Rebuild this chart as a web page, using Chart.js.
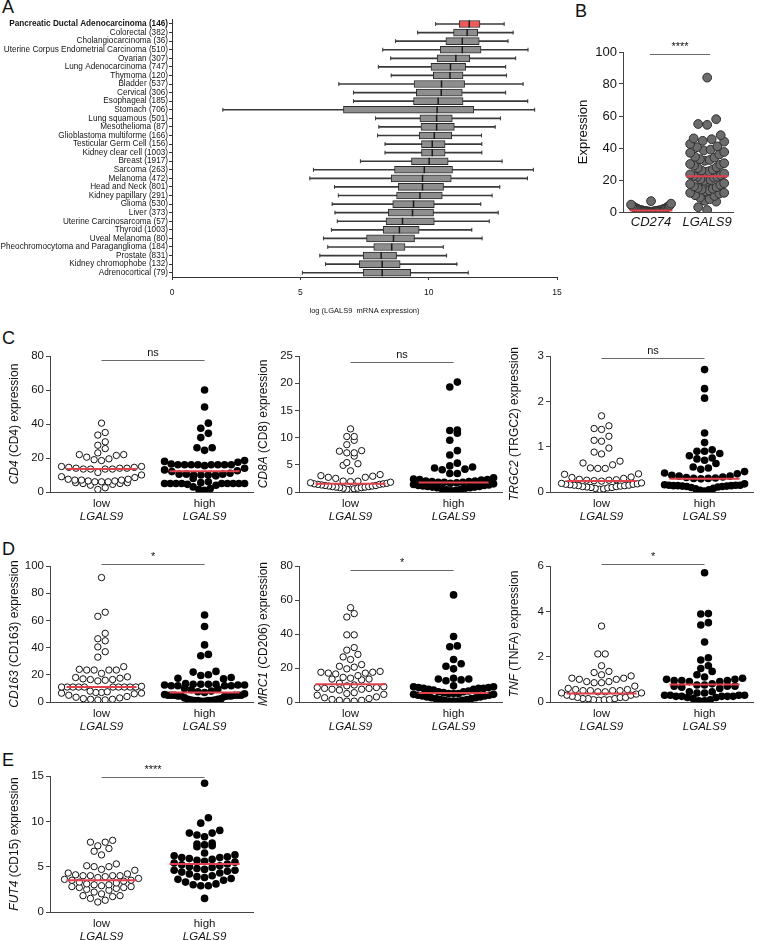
<!DOCTYPE html>
<html>
<head>
<meta charset="utf-8">
<script src="https://cdn.jsdelivr.net/npm/chart.js@4.4.1/dist/chart.umd.min.js"></script>
<style>
  body { margin: 0; background: #fff; width: 759px; height: 941px; position: relative; overflow: hidden; font-family: Arial, "Liberation Sans", sans-serif; }
  canvas { position: absolute; }
  .tag { position: absolute; font-size: 18px; line-height: 1; color: #111; }
</style>
</head>
<body>
<div class="tag" style="left:2px;top:-2px">A</div>
<div class="tag" style="left:575px;top:2px">B</div>
<div class="tag" style="left:2px;top:329px">C</div>
<div class="tag" style="left:2px;top:540px">D</div>
<div class="tag" style="left:2px;top:751px">E</div>

<canvas id="chartA" width="570" height="320" style="left:0;top:0"></canvas>
<canvas id="chartB" width="180" height="212" style="left:565px;top:30px"></canvas>
<canvas id="c1" width="258" height="196" style="left:0;top:340px"></canvas>
<canvas id="c2" width="258" height="196" style="left:249px;top:340px"></canvas>
<canvas id="c3" width="258" height="196" style="left:500px;top:340px"></canvas>
<canvas id="d1" width="258" height="196" style="left:0;top:550px"></canvas>
<canvas id="d2" width="258" height="196" style="left:249px;top:550px"></canvas>
<canvas id="d3" width="258" height="196" style="left:500px;top:550px"></canvas>
<canvas id="e1" width="258" height="196" style="left:0;top:760px"></canvas>

<script>
// ---- Panel A: LGALS9 expression per cancer type (box plots) ----
const cancerTypes = [
  'Pancreatic Ductal Adenocarcinoma (146)', 'Colorectal (382)', 'Cholangiocarcinoma (36)',
  'Uterine Corpus Endometrial Carcinoma (510)', 'Ovarian (307)', 'Lung Adenocarcinoma (747)',
  'Thymoma (120)', 'Bladder (537)', 'Cervical (306)', 'Esophageal (185)', 'Stomach (706)',
  'Lung squamous (501)', 'Mesothelioma (87)', 'Glioblastoma multiforme (166)',
  'Testicular Germ Cell (156)', 'Kidney clear cell (1003)', 'Breast (1917)', 'Sarcoma (263)',
  'Melanoma (472)', 'Head and Neck (801)', 'Kidney papillary (291)', 'Glioma (530)',
  'Liver (373)', 'Uterine Carcinosarcoma (57)', 'Thyroid (1003)', 'Uveal Melanoma (80)',
  'Pheochromocytoma and Paraganglioma (184)', 'Prostate (831)', 'Kidney chromophobe (132)',
  'Adrenocortical (79)'
];
const whiskerMin = [10.27, 9.57, 8.71, 8.21, 8.52, 8.04, 8.54, 6.5, 7.07, 7.07, 1.98, 7.93, 8.06, 8.01, 8.3,
  8.3, 7.34, 5.51, 5.37, 6.33, 6.48, 6.24, 6.35, 6.44, 6.21, 5.9, 6.07, 5.76, 5.98, 5.08];
const boxQ1 = [11.19, 10.97, 10.67, 10.45, 10.33, 10.09, 10.18, 9.43, 9.52, 9.41, 6.68, 9.66, 9.7, 9.63, 9.72,
  9.72, 9.33, 8.67, 8.54, 8.82, 8.75, 8.6, 8.43, 8.34, 8.23, 7.58, 7.86, 7.45, 7.3, 7.45];
const boxMedian = [11.58, 11.5, 11.31, 11.31, 11.06, 10.85, 10.83, 10.5, 10.49, 10.37, 10.33, 10.31, 10.31, 10.22, 10.14,
  10.14, 10.02, 9.83, 9.76, 9.76, 9.66, 9.41, 9.37, 8.98, 8.86, 8.63, 8.56, 8.15, 8.19, 8.19];
const boxQ3 = [12.0, 11.91, 11.97, 12.04, 11.6, 11.44, 11.34, 11.4, 11.31, 11.34, 11.76, 10.92, 11.0, 10.9, 10.64,
  10.64, 10.76, 10.93, 10.88, 10.58, 10.53, 10.22, 10.19, 10.22, 9.63, 9.45, 9.08, 8.75, 8.89, 9.3];
const whiskerMax = [12.94, 13.29, 13.09, 13.87, 13.39, 13.0, 13.03, 13.68, 13.0, 13.86, 14.13, 12.8, 12.59, 12.06, 12.07,
  12.07, 12.86, 14.08, 13.85, 12.77, 12.47, 12.03, 12.71, 12.36, 11.68, 12.08, 10.57, 10.7, 11.1, 11.54];
const axisATicks = [0, 5, 10, 15];

// ---- Panel B: CD274 vs LGALS9 ----
const bCategories = ['CD274', 'LGALS9'];
const bCd274 = [6.8, 5.2, 4.6, 4.2, 3.8, 3.5, 3.2, 3.0, 2.8, 2.5, 2.3, 2.1, 2.0, 1.8, 1.6, 1.5, 1.4, 1.2, 1.1, 1.0,
  1.0, 0.9, 0.8, 0.8, 0.7, 0.6, 0.5, 0.5, 0.4, 0.3, 0.3, 0.2, 0.2, 0.1];
const bLgals9 = [84, 58, 55, 54.5, 48, 46, 45.5, 44.5, 44, 42.5, 41, 40.5, 39, 38.5, 37.5, 37, 36, 34.5, 34, 33,
  32.5, 32, 30.5, 30, 29.5, 29, 28, 27.5, 26.5, 26, 25.5, 25, 24, 23.5, 23, 22.5, 22, 22, 21.5, 20.5, 20, 19.5,
  19, 18, 17.5, 17, 16, 15.5, 15, 14.5, 14, 13.5, 13, 12, 12, 11.5, 10.5, 10, 9, 8, 7, 6.5, 3, 1.2];
const bMedian = [1.0, 22.3];

// ---- Panels C-E: low vs high LGALS9 groups ----
const groupNames = ['low', 'high'];
const groupGene = 'LGALS9';

const cd4Low = [40.5, 35, 33.5, 29.5, 27.5, 25.5, 23, 22, 22, 21.5, 20.5, 19.5, 19, 18.5, 15, 15, 14.5, 14.5, 14,
  14, 13.5, 13.5, 13.5, 13.5, 14, 11.5, 10, 9, 8.5, 7.5, 7.5, 7, 7, 7, 6.5, 6.5, 6, 6, 6, 5.5, 5.5, 5, 5, 4.5, 4, 2.5, 1.5];
const cd4High = [60, 50, 40.5, 37.5, 34.5, 32, 26, 26, 24.5, 18.5, 18, 17.5, 16.5, 16, 16, 16, 16, 16, 16, 16, 16,
  15.5, 14, 13, 12.5, 12, 11, 10.5, 10.5, 10.5, 10, 10, 10, 10, 9.5, 8, 6, 5.5, 5, 5, 5, 5, 5, 5, 5, 5, 5, 4.5, 4, 3, 2, 1.5, 1];
const cd4Median = [13.5, 12.2];

const cd8Low = [11.6, 10.2, 10.2, 9.5, 8.7, 7.6, 7.5, 7.2, 7.2, 6.6, 5.4, 5.2, 4.9, 3.9, 3.2, 3.0, 2.9, 2.7, 2.7, 2.5,
  2.0, 2.0, 1.9, 1.8, 1.7, 1.6, 1.5, 1.5, 1.4, 1.4, 1.3, 1.2, 1.2, 1.1, 1.1, 1.0, 1.0, 0.9, 0.9, 0.8, 0.8, 0.7, 0.7, 0.6, 0.5, 0.5];
const cd8High = [20.2, 19.3, 11.4, 11.3, 10.8, 9.5, 7.6, 6.8, 5.3, 4.8, 4.6, 4.4, 4.2, 4.1, 3.4, 3.4, 2.6, 2.4, 2.3,
  2.3, 2.2, 2.0, 2.0, 1.9, 1.9, 1.8, 1.8, 1.8, 1.7, 1.6, 1.5, 1.4, 1.3, 1.2, 1.2, 1.1, 1.0, 1.0, 0.9, 0.9, 0.8, 0.8,
  0.7, 0.6, 0.5, 0.4, 0.3, 0.2];
const cd8Median = [1.5, 1.75];

const trgc2Low = [1.68, 1.46, 1.40, 1.38, 1.23, 1.14, 1.12, 0.97, 0.88, 0.84, 0.68, 0.64, 0.60, 0.53, 0.52, 0.52,
  0.40, 0.39, 0.33, 0.32, 0.30, 0.28, 0.27, 0.26, 0.26, 0.25, 0.24, 0.20, 0.19, 0.18, 0.17, 0.17, 0.16, 0.15, 0.15,
  0.14, 0.14, 0.13, 0.12, 0.12, 0.11, 0.10, 0.10, 0.09, 0.08, 0.07, 0.06];
const trgc2High = [2.7, 2.28, 2.07, 1.3, 1.09, 0.93, 0.9, 0.9, 0.85, 0.8, 0.75, 0.73, 0.7, 0.63, 0.55, 0.53, 0.5,
  0.45, 0.42, 0.4, 0.37, 0.35, 0.35, 0.33, 0.32, 0.31, 0.3, 0.3, 0.29, 0.18, 0.16, 0.15, 0.15, 0.15, 0.14, 0.14,
  0.14, 0.13, 0.13, 0.12, 0.12, 0.11, 0.1, 0.08, 0.07, 0.05, 0.04, 0.02];
const trgc2Median = [0.24, 0.29];

const cd163Low = [91.5, 66, 63, 50.5, 46.5, 45, 40.5, 37, 33, 26, 24, 23.5, 23.5, 23.5, 23.5, 21, 18.5, 18, 17.5,
  17, 16.5, 16.5, 16, 15.5, 11.5, 11, 11, 11, 11, 11, 11, 11, 11, 11, 11, 8, 7.5, 7, 7, 6.5, 6.5, 6, 5, 4, 3.5,
  3, 2.5, 2, 2, 1.5, 1.5];
const cd163High = [64, 55.5, 42, 35, 34, 22.5, 22, 20, 19.5, 18, 17.5, 17, 13.5, 13, 13, 13, 13, 12.5, 12.5, 12.5,
  12, 12, 12, 12, 10, 9.5, 9, 8, 7.5, 7, 6, 5.5, 5, 5, 5, 5, 5, 5, 4.5, 4.5, 4.5, 4.5, 4, 3, 2.5, 2, 2, 1.5, 1.5,
  1, 1, 1, 1, 0.5, 0.5];
const cd163Median = [11, 7];

const mrc1Low = [55.5, 52, 50, 39.5, 39.5, 32, 30.5, 28, 26.5, 25, 22, 21, 20.5, 19.5, 18, 17.5, 17.5, 17, 17, 16.5,
  15.5, 14.5, 14, 13.5, 13.5, 13, 11, 10, 9.5, 9, 8.5, 8.5, 8, 8, 7.5, 7.5, 7, 5.5, 5, 4.5, 4, 3, 2.5, 2, 1.5, 1,
  1, 0.5, 0.5];
const mrc1High = [63, 38.5, 33, 32.5, 25, 22.5, 21, 19.5, 14, 13.5, 13.5, 13, 12.5, 9.5, 9, 9, 8.5, 8.5, 8, 8, 8,
  7.5, 7.5, 7, 6.5, 6, 6, 5.5, 5, 5, 5, 4.5, 4.5, 4, 4, 3.5, 3.5, 3, 3, 2.5, 2.5, 2, 2, 1.5, 1.5, 1, 1, 0.5, 0.5, 0.5];
const mrc1Median = [10.5, 5.3];

const tnfLow = [3.35, 2.12, 2.12, 1.6, 1.35, 1.3, 1.2, 1.15, 1.05, 1.05, 1.0, 1.0, 0.9, 0.9, 0.85, 0.85, 0.7, 0.6,
  0.55, 0.55, 0.5, 0.5, 0.5, 0.5, 0.45, 0.45, 0.4, 0.4, 0.35, 0.3, 0.3, 0.25, 0.2, 0.2, 0.2, 0.15, 0.15, 0.15,
  0.1, 0.1, 0.1, 0.08];
const tnfHigh = [5.7, 3.9, 3.88, 3.5, 3.4, 2.65, 1.95, 1.85, 1.6, 1.48, 1.35, 1.2, 1.1, 1.05, 1.0, 1.0, 0.95, 0.95,
  0.95, 0.9, 0.9, 0.8, 0.75, 0.75, 0.7, 0.7, 0.7, 0.65, 0.6, 0.45, 0.45, 0.4, 0.4, 0.3, 0.3, 0.3, 0.3, 0.25, 0.25,
  0.25, 0.25, 0.25, 0.2, 0.2, 0.15, 0.1, 0.05, 0.05];
const tnfMedian = [0.38, 0.77];

const fut4Low = [7.9, 7.7, 7.7, 7.3, 7.0, 6.7, 6.3, 5.3, 5.1, 5.0, 5.0, 4.7, 4.6, 4.3, 4.2, 4.1, 4.0, 4.0, 4.0, 4.0,
  3.9, 3.8, 3.7, 3.6, 3.5, 3.5, 3.4, 3.3, 3.2, 3.1, 3.0, 3.0, 2.9, 2.8, 2.8, 2.7, 2.7, 2.6, 2.5, 2.4, 2.2, 2.0,
  1.8, 1.8, 1.7, 1.5, 1.3, 1.1];
const fut4High = [14.2, 10.4, 9.8, 9.0, 8.7, 8.7, 8.5, 8.3, 7.6, 7.5, 7.4, 7.3, 7.2, 6.5, 6.3, 6.2, 6.1, 6.0, 6.0,
  5.9, 5.8, 5.7, 5.6, 5.5, 5.4, 5.3, 5.2, 5.1, 5.0, 4.9, 4.8, 4.7, 4.6, 4.6, 4.5, 4.4, 4.3, 4.2, 4.0, 3.9, 3.8,
  3.7, 3.6, 3.5, 3.3, 3.1, 3.0, 2.9, 2.9, 1.5];
const fut4Median = [3.5, 5.3];

const RED = '#e2404b';
Chart.defaults.font.family = 'Arial, "Liberation Sans", sans-serif';
Chart.defaults.color = '#151515';
Chart.defaults.animation = false;
Chart.defaults.plugins.legend.display = false;
Chart.defaults.plugins.tooltip.enabled = false;

// Prism-like scatter: points within one dot height go side by side in a row,
// the lowest ones sit in the middle of the row
function swarm(chart, values, center, dot, maxW) {
  const xs = chart.scales.x, ys = chart.scales.y;
  const unit = xs.getPixelForValue(1) - xs.getPixelForValue(0);
  const sorted = values.slice().sort((a, b) => a - b);
  const points = [];
  let band = [];
  const flush = () => {
    const n = band.length;
    const gap = n > 1 ? Math.min(dot, maxW / (n - 1)) : 0;
    const slots = band.map((_, i) => (i - (n - 1) / 2) * gap).sort((a, b) => Math.abs(a) - Math.abs(b));
    band.forEach((v, i) => points.push({ x: center + slots[i] / unit, y: v }));
    band = [];
  };
  sorted.forEach(v => {
    if (band.length && ys.getPixelForValue(band[0]) - ys.getPixelForValue(v) >= dot) flush();
    band.push(v);
  });
  flush();
  return points;
}

// significance bar + y title with italic gene symbol
function decor(spec) {
  return {
    id: 'decor',
    afterDraw(chart) {
      const { ctx, chartArea } = chart;
      const x = chart.scales.x, y = chart.scales.y;
      ctx.save();
      const yy = Math.round(y.getPixelForValue(spec.sigY)) + 0.5;
      const x0 = x.getPixelForValue(spec.sigFrom ?? 0), x1 = x.getPixelForValue(spec.sigTo ?? 1);
      ctx.strokeStyle = '#6a6a6a';
      ctx.lineWidth = 1;
      ctx.beginPath();
      ctx.moveTo(x0, yy);
      ctx.lineTo(x1, yy);
      ctx.stroke();
      ctx.fillStyle = '#111';
      ctx.textAlign = 'center';
      ctx.textBaseline = 'bottom';
      ctx.font = `${spec.sigSize || 11}px Arial, "Liberation Sans", sans-serif`;
      ctx.fillText(spec.sigText, (x0 + x1) / 2, yy - 2);

      const size = spec.titleSize || 12;
      const fontFor = it => `${it ? 'italic ' : ''}${size}px Arial, "Liberation Sans", sans-serif`;
      let total = 0;
      spec.title.forEach(([t, it]) => { ctx.font = fontFor(it); total += ctx.measureText(t).width; });
      ctx.translate(spec.titleX, (chartArea.top + chartArea.bottom) / 2);
      ctx.rotate(-Math.PI / 2);
      ctx.textAlign = 'left';
      ctx.textBaseline = 'middle';
      let pos = -total / 2;
      spec.title.forEach(([t, it]) => {
        ctx.font = fontFor(it);
        ctx.fillText(t, pos, 0);
        pos += ctx.measureText(t).width;
      });
      ctx.restore();
    }
  };
}

function twoTicks(s) { s.ticks = [{ value: 0 }, { value: 1 }]; }

function dotPlot(id, spec) {
  const medLine = (c, m) => ({
    type: 'line', data: [{ x: c - 0.34, y: m }, { x: c + 0.34, y: m }],
    borderColor: RED, borderWidth: 2, pointRadius: 0, order: 1
  });
  const chart = new Chart(document.getElementById(id), {
    type: 'scatter',
    data: {
      datasets: [
        { data: [], pointStyle: 'circle', radius: 3.2, backgroundColor: '#fff', borderColor: '#111', borderWidth: 1, order: 2 },
        { data: [], pointStyle: 'circle', radius: 3.8, backgroundColor: '#000', borderColor: '#000', borderWidth: 0, order: 2 },
        medLine(0, spec.medians[0]),
        medLine(1, spec.medians[1])
      ]
    },
    options: {
      responsive: false,
      layout: { padding: { top: 16, right: 5, left: 0, bottom: 0 } },
      scales: {
        x: {
          type: 'linear', min: -0.5, max: 1.47, afterBuildTicks: twoTicks,
          ticks: { callback: v => groupNames[v], font: { size: 11.5 }, padding: 5 },
          grid: { display: false, drawTicks: false },
          border: { color: '#444' },
          afterFit: s => { s.height = 18; }
        },
        x2: {
          type: 'linear', position: 'bottom', weight: 1, min: -0.5, max: 1.47, afterBuildTicks: twoTicks,
          ticks: { callback: () => groupGene, font: { size: 11.5, style: 'italic' }, padding: 0 },
          grid: { display: false, drawTicks: false },
          border: { display: false },
          afterFit: s => { s.height = 26; }
        },
        y: {
          min: 0, max: spec.yMax,
          ticks: { stepSize: spec.yStep, font: { size: 11.5 }, padding: 2 },
          grid: { drawOnChartArea: false, tickLength: 4, color: '#444' },
          border: { color: '#444' },
          afterFit: s => { s.width = 50; }
        }
      }
    },
    plugins: [decor(spec)]
  });
  chart.data.datasets[0].data = swarm(chart, spec.low, 0, 7.4, 80);
  chart.data.datasets[1].data = swarm(chart, spec.high, 1, 7.6, 80);
  chart.update('none');
}

// ---- Panel A chart ----
new Chart(document.getElementById('chartA'), {
  type: 'bar',
  data: {
    labels: cancerTypes,
    datasets: [
      {
        data: cancerTypes.map((_, i) => [whiskerMin[i], whiskerMax[i]]),
        backgroundColor: '#3a3a3a', barThickness: 1, grouped: false, order: 3
      },
      {
        data: cancerTypes.map((_, i) => [boxQ1[i], boxQ3[i]]),
        backgroundColor: cancerTypes.map((_, i) => i === 0 ? '#ef5b5b' : '#8e8e8e'),
        borderColor: '#2b2b2b', borderWidth: 1, borderSkipped: false,
        barThickness: 7, grouped: false, order: 2
      },
      {
        type: 'scatter',
        data: cancerTypes.map((c, i) => ({ x: boxMedian[i], y: c })),
        pointStyle: 'line', rotation: 90, radius: 3.5, borderColor: '#1a1a1a', borderWidth: 1.5, order: 1
      },
      {
        type: 'scatter',
        data: cancerTypes.map((c, i) => ({ x: whiskerMin[i], y: c }))
          .concat(cancerTypes.map((c, i) => ({ x: whiskerMax[i], y: c }))),
        pointStyle: 'line', rotation: 90, radius: 2, borderColor: '#3a3a3a', borderWidth: 1, order: 1
      }
    ]
  },
  options: {
    indexAxis: 'y',
    responsive: false,
    layout: { padding: { top: 19.7, right: 13, left: 0, bottom: 0 } },
    scales: {
      x: {
        type: 'linear', min: 0, max: 15,
        afterBuildTicks: s => { s.ticks = axisATicks.map(v => ({ value: v })); },
        ticks: { font: { size: 8.5 }, padding: 8 },
        grid: { drawOnChartArea: false, tickLength: 3, color: '#333' },
        border: { color: '#333' },
        title: { display: true, text: 'log (LGALS9  mRNA expression)', font: { size: 7.5 }, padding: { top: 0, bottom: 5 } },
        afterFit: s => { s.height = 43; }
      },
      y: {
        ticks: {
          autoSkip: false, padding: 1,
          font: c => ({ size: 8.2, weight: c.index === 0 ? 'bold' : 'normal' })
        },
        grid: { drawOnChartArea: false, tickLength: 3, color: '#333', offset: false },
        border: { color: '#333' },
        afterFit: s => { s.width = 172; }
      }
    }
  }
});

// ---- Panel B chart ----
(function () {
  const medLine = (c, m) => ({
    type: 'line', data: [{ x: c - 0.38, y: m }, { x: c + 0.38, y: m }],
    borderColor: RED, borderWidth: 2, pointRadius: 0, order: 1
  });
  const chart = new Chart(document.getElementById('chartB'), {
    type: 'scatter',
    data: {
      datasets: [
        { data: [], radius: 4.4, backgroundColor: '#6c6c6c', borderColor: '#2e2e2e', borderWidth: 1, order: 2 },
        { data: [], radius: 4.4, backgroundColor: '#6c6c6c', borderColor: '#2e2e2e', borderWidth: 1, order: 2 },
        medLine(0, bMedian[0]),
        medLine(1, bMedian[1])
      ]
    },
    options: {
      responsive: false,
      layout: { padding: { top: 22, right: 12, left: 0, bottom: 0 } },
      scales: {
        x: {
          type: 'linear', min: -0.5, max: 1.46, afterBuildTicks: twoTicks,
          ticks: { callback: v => bCategories[v], font: { size: 13, style: 'italic' }, padding: 3 },
          grid: { display: false, drawTicks: false },
          border: { color: '#444' },
          afterFit: s => { s.height = 30; }
        },
        y: {
          min: 0, max: 100,
          ticks: { stepSize: 20, font: { size: 13 }, padding: 2 },
          grid: { drawOnChartArea: false, tickLength: 4, color: '#444' },
          border: { color: '#444' },
          afterFit: s => { s.width = 58; }
        }
      }
    },
    plugins: [decor({ sigY: 98.5, sigFrom: -0.02, sigTo: 1.05, sigText: '****', sigSize: 11, title: [['Expression', false]], titleX: 18, titleSize: 13 })]
  });
  chart.data.datasets[0].data = swarm(chart, bCd274, 0, 9, 40);
  chart.data.datasets[1].data = swarm(chart, bLgals9, 1, 9, 34);
  chart.update('none');
})();

// ---- Panels C, D, E ----
dotPlot('c1', { low: cd4Low, high: cd4High, medians: cd4Median, yMax: 80, yStep: 20, sigY: 77.6, sigText: 'ns',
  title: [['CD4', true], [' (CD4) expression', false]], titleX: 15 });
dotPlot('c2', { low: cd8Low, high: cd8High, medians: cd8Median, yMax: 25, yStep: 5, sigY: 23.9, sigText: 'ns',
  title: [['CD8A', true], [' (CD8) expression', false]], titleX: 15 });
dotPlot('c3', { low: trgc2Low, high: trgc2High, medians: trgc2Median, yMax: 3, yStep: 1, sigY: 2.96, sigText: 'ns',
  title: [['TRGC2', true], [' (TRGC2) expression', false]], titleX: 15 });
dotPlot('d1', { low: cd163Low, high: cd163High, medians: cd163Median, yMax: 100, yStep: 20, sigY: 101.5, sigText: '*',
  title: [['CD163', true], [' (CD163) expression', false]], titleX: 15 });
dotPlot('d2', { low: mrc1Low, high: mrc1High, medians: mrc1Median, yMax: 80, yStep: 20, sigY: 77.5, sigText: '*',
  title: [['MRC1', true], [' (CD206) expression', false]], titleX: 15 });
dotPlot('d3', { low: tnfLow, high: tnfHigh, medians: tnfMedian, yMax: 6, yStep: 2, sigY: 6.1, sigText: '*',
  title: [['TNF', true], [' (TNFA) expression', false]], titleX: 15 });
dotPlot('e1', { low: fut4Low, high: fut4High, medians: fut4Median, yMax: 15, yStep: 5, sigY: 14.9, sigText: '****',
  title: [['FUT4', true], [' (CD15) expression', false]], titleX: 15 });
</script>
</body>
</html>
